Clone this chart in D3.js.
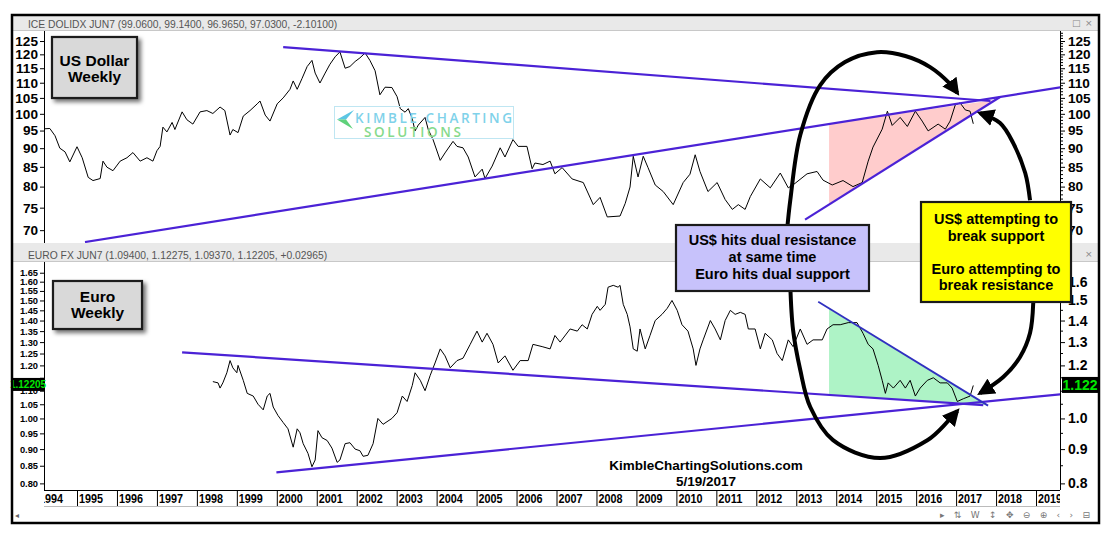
<!DOCTYPE html>
<html><head><meta charset="utf-8">
<script src="https://cdn.jsdelivr.net/npm/d3@7"></script>
<style>
html,body{margin:0;padding:0;background:#fff;}
svg{display:block;font-family:"Liberation Sans",Arial,sans-serif;}
</style></head><body>
<svg id="c" width="1114" height="540"></svg>
<script>
// ---------------- DATA ----------------
const usdYears = [1994.17,1994.32,1994.45,1994.57,1994.70,1994.82,1995.00,1995.13,1995.28,1995.40,
1995.58,1995.65,1995.75,1995.90,1996.08,1996.25,1996.40,1996.58,1996.75,1996.90,
1997.00,1997.08,1997.15,1997.25,1997.38,1997.45,1997.63,1997.75,1997.90,1998.08,
1998.25,1998.40,1998.58,1998.70,1998.83,1998.90,1999.03,1999.16,1999.33,1999.51,
1999.58,1999.71,1999.83,2000.01,2000.16,2000.33,2000.41,2000.51,2000.63,2000.76,
2000.88,2000.96,2001.08,2001.21,2001.33,2001.46,2001.58,2001.71,2001.83,2001.96,
2002.08,2002.21,2002.33,2002.46,2002.58,2002.71,2002.88,2003.01,2003.09,2003.21,
2003.29,2003.39,2003.46,2003.54,2003.71,2003.79,2003.91,2004.09,2004.21,2004.41,
2004.51,2004.66,2004.79,2004.96,2005.14,2005.21,2005.39,2005.59,2005.71,2005.91,
2006.04,2006.26,2006.39,2006.46,2006.66,2006.84,2006.96,2007.14,2007.39,2007.67,
2007.92,2008.09,2008.27,2008.59,2008.72,2008.84,2008.92,2009.04,2009.17,2009.29,
2009.47,2009.67,2009.92,2010.17,2010.34,2010.47,2010.59,2010.79,2011.02,2011.22,
2011.40,2011.55,2011.72,2011.85,2012.10,2012.35,2012.60,2012.80,2012.97,2013.27,
2013.52,2013.67,2013.90,2014.17,2014.42,2014.65,2014.80,2014.92,2015.15,2015.28,
2015.40,2015.60,2015.78,2015.98,2016.15,2016.30,2016.55,2016.73,2016.85,2016.98,
2017.10,2017.23,2017.35,2017.43];
const usdValues = [95.5,95.6,93.5,90,89,86.3,90.4,87.4,82.3,81.5,
82,86.5,84.9,84,86.5,87.4,88.8,86.5,87.4,86.5,
89.3,90.5,96,94.6,97.4,95.3,100.6,98.2,96.9,100.6,
101,100.1,102.1,101,93.7,95.3,94.4,99.3,101,103.1,
104,99.6,97.8,103.1,105,107.8,110.6,107.8,111.4,115.6,
117.8,113.3,109.9,113.3,116.4,119.1,120.9,115,115.6,117.4,
118.7,120.5,117.8,114.1,106,108.5,108.4,105.4,101.6,100.5,
101.6,98.5,94.9,96.6,98.9,95.3,92.4,86.7,88.7,91.9,
90.5,90.1,87.6,82.4,84.4,82,85.2,90.1,87.6,92.4,
90.5,90.5,84.5,86,85.6,86.5,83.2,84.8,81.9,81,
75.7,77.4,72.9,73.1,76,79.9,87.8,82.4,87.8,84.8,
80.4,78.8,75.7,81,83.1,88.2,83.8,78.8,81,76.9,
74.6,75.7,74.6,77.6,81.9,79.7,83.4,79.7,80.8,83.2,
83.8,81.6,80.4,81.5,80,81,86.5,90.3,95.4,100.8,
96.5,98.9,96.2,100.8,97.8,94.9,96.9,95.4,97.8,102.8,
103.4,101.2,100.8,97.0];

const eurYears = [1998.40,1998.53,1998.58,1998.65,1998.75,1998.83,1998.90,1999.00,1999.03,1999.16,
1999.26,1999.41,1999.53,1999.66,1999.76,1999.83,1999.91,2000.03,2000.16,2000.28,
2000.41,2000.51,2000.58,2000.66,2000.78,2000.88,2000.96,2001.03,2001.13,2001.26,
2001.38,2001.51,2001.58,2001.71,2001.83,2001.96,2002.08,2002.16,2002.28,2002.41,
2002.53,2002.66,2002.88,2003.01,2003.14,2003.26,2003.39,2003.46,2003.59,2003.71,
2003.84,2003.96,2004.09,2004.21,2004.34,2004.51,2004.66,2004.84,2005.01,2005.14,
2005.26,2005.41,2005.54,2005.71,2005.91,2006.09,2006.29,2006.41,2006.64,2006.84,
2006.96,2007.09,2007.34,2007.52,2007.64,2007.77,2007.89,2008.02,2008.09,2008.22,
2008.29,2008.42,2008.54,2008.59,2008.67,2008.77,2008.84,2008.92,2009.02,2009.09,
2009.22,2009.34,2009.47,2009.64,2009.77,2009.89,2010.02,2010.14,2010.29,2010.42,
2010.49,2010.59,2010.67,2010.85,2010.97,2011.10,2011.22,2011.35,2011.47,2011.60,
2011.72,2011.80,2011.97,2012.10,2012.22,2012.40,2012.52,2012.65,2012.80,2012.92,
2013.10,2013.27,2013.42,2013.65,2013.77,2013.92,2014.10,2014.30,2014.52,2014.67,
2014.80,2014.92,2015.05,2015.15,2015.23,2015.30,2015.43,2015.60,2015.73,2015.85,
2015.98,2016.10,2016.28,2016.43,2016.60,2016.78,2016.90,2017.03,2017.18,2017.35,
2017.43];
const eurValues = [1.135,1.13,1.11,1.13,1.17,1.22,1.19,1.17,1.20,1.14,
1.09,1.08,1.05,1.03,1.08,1.09,1.04,1.01,0.986,0.965,
0.906,0.965,0.952,0.917,0.887,0.847,0.867,0.959,0.936,0.927,
0.903,0.86,0.867,0.917,0.92,0.90,0.895,0.878,0.881,0.917,
1.0,0.98,1.0,1.02,1.08,1.06,1.12,1.17,1.14,1.10,
1.16,1.21,1.27,1.24,1.19,1.22,1.23,1.29,1.35,1.30,
1.34,1.29,1.21,1.24,1.18,1.22,1.22,1.29,1.28,1.27,
1.33,1.30,1.36,1.35,1.38,1.36,1.43,1.47,1.45,1.48,
1.57,1.58,1.57,1.58,1.48,1.43,1.37,1.27,1.26,1.36,
1.27,1.33,1.40,1.43,1.46,1.50,1.45,1.38,1.35,1.27,
1.20,1.27,1.31,1.40,1.36,1.31,1.40,1.45,1.43,1.44,
1.43,1.36,1.36,1.27,1.34,1.31,1.25,1.22,1.31,1.28,
1.36,1.29,1.31,1.31,1.36,1.38,1.38,1.39,1.39,1.34,
1.29,1.27,1.20,1.14,1.09,1.13,1.11,1.14,1.11,1.14,
1.08,1.11,1.14,1.15,1.13,1.13,1.11,1.06,1.07,1.08,
1.12];

const yearTicks = d3.range(1994, 2020);
const usdTicks = [70,75,80,85,90,95,100,105,110,115,120,125];
const eurLeftTicks = [0.80,0.85,0.90,0.95,1.00,1.05,1.10,1.15,1.20,1.25,1.30,1.35,1.40,1.45,1.50,1.55,1.60,1.65];
const eurRightTicks = [0.8,0.9,1.0,1.1,1.2,1.3,1.4,1.5,1.6];

// trend lines (year, value)
const usdResistYears = [2000.16, 2017.86], usdResistValues = [122.7, 104.0];
const usdSupportYears = [1995.2, 2019.63], usdSupportValues = [67.5, 108.5];
const usdWedgeYears = [2013.22, 2018.1], usdWedgeValues = [72.3, 105.3];
const usdZoneYears = [2013.82, 2013.82, 2017.95], usdZoneValues = [97.0, 75.8, 104.3];
const eurResistYears = [1997.63, 2017.68], eurResistValues = [1.255, 1.047];
const eurSupportYears = [1999.99, 2019.63], eurSupportValues = [0.831, 1.087];
const eurTriYears = [2013.55, 2017.8], eurTriValues = [1.493, 1.045];
const eurZoneYears = [2013.82, 2013.82, 2017.78], eurZoneValues = [1.457, 1.083, 1.046];

// annotation arrows (year, value)
const arrowTopYears = [2012.77,2012.85,2013.10,2013.60,2014.22,2015.02,2015.73,2016.35,2016.85,2017.03];
const arrowTopValues = [70.0,76.7,93.7,109.2,117.2,120.8,119.4,115.4,109.6,106.6];
const arrowLoopYears = [2012.85,2012.92,2013.10,2013.35,2013.92,2015.10,2016.28,2016.78,2017.03];
const arrowLoopValues = [1.582,1.355,1.181,1.040,0.928,0.873,0.928,0.988,1.026];
const arrowUpYears = [2018.85,2018.73,2018.43,2018.10,2017.60];
const arrowUpValues = [76.7,83.4,91.4,97.2,100.2];
const arrowDownYears = [2018.93,2018.85,2018.60,2018.18,2017.60];
const arrowDownValues = [1.487,1.341,1.235,1.153,1.091];

const usdTitle = "ICE DOLIDX JUN7 (99.0600, 99.1400, 96.9650, 97.0300, -2.10100)";
const eurTitle = "EURO FX JUN7 (1.09400, 1.12275, 1.09370, 1.12205, +0.02965)";
const eurLast = 1.12205;

// ---------------- LAYOUT ----------------
const svg = d3.select('#c');
const L = 44, R = 1060;
const TOP0 = 31, TOP1 = 243, BOT0 = 262, BOT1 = 490;
const x = d3.scaleLinear().domain([1994.174, 2019.6]).range([L, R]);
const yTop = d3.scaleLog().domain([67.3, 128.9]).range([TOP1, TOP0]);
const yBot = d3.scaleLog().domain([0.782, 1.712]).range([BOT1, BOT0]);
const zip = (a, b) => a.map((v, i) => [v, b[i]]);
const purple = '#4b22d6';

const defs = svg.append('defs');
defs.append('clipPath').attr('id', 'cTop').append('rect').attr('x', L).attr('y', TOP0).attr('width', R - L).attr('height', TOP1 - TOP0);
defs.append('clipPath').attr('id', 'cBot').append('rect').attr('x', L).attr('y', BOT0).attr('width', R - L).attr('height', BOT1 - BOT0);
defs.append('clipPath').attr('id', 'cX').append('rect').attr('x', L).attr('y', 488).attr('width', R - L).attr('height', 20);
defs.append('marker').attr('id', 'ah').attr('viewBox', '0 0 10 10').attr('refX', 8).attr('refY', 5)
  .attr('markerWidth', 4.3).attr('markerHeight', 4.3).attr('orient', 'auto')
  .append('path').attr('d', 'M0,0 L10,5 L0,10 z').attr('fill', '#000');
const f = defs.append('filter').attr('id', 'sh').attr('x', '-20%').attr('y', '-20%').attr('width', '150%').attr('height', '150%');
f.append('feDropShadow').attr('dx', 3).attr('dy', 3).attr('stdDeviation', 2).attr('flood-color', '#000').attr('flood-opacity', 0.55);

svg.append('rect').attr('width', 1114).attr('height', 540).attr('fill', '#fff');

// title bands
[[16, TOP0, usdTitle], [TOP1, BOT0, eurTitle]].forEach(([a, b, t]) => {
  svg.append('rect').attr('x', 13).attr('y', a).attr('width', 1086).attr('height', b - a).attr('fill', '#e9e9e9');
  svg.append('line').attr('x1', 13).attr('x2', 1099).attr('y1', b - 0.5).attr('y2', b - 0.5).attr('stroke', '#c8c8c8');
  svg.append('text').attr('x', 28).attr('y', b - 3.5).attr('font-size', 10.3).attr('fill', '#555').text(t);
});
svg.append('text').attr('x', 1072).attr('y', 26).attr('font-size', 9).attr('fill', '#888').attr('font-family', 'DejaVu Sans').text('□');
svg.append('text').attr('x', 1085).attr('y', 26).attr('font-size', 9).attr('fill', '#888').attr('font-family', 'DejaVu Sans').text('×');
svg.append('text').attr('x', 1085).attr('y', 257).attr('font-size', 9).attr('fill', '#888').attr('font-family', 'DejaVu Sans').text('×');

// panels
const gTop = svg.append('g').attr('clip-path', 'url(#cTop)');
const gBot = svg.append('g').attr('clip-path', 'url(#cBot)');
const lineTop = d3.line().x(d => x(d[0])).y(d => yTop(d[1]));
const lineBot = d3.line().x(d => x(d[0])).y(d => yBot(d[1]));

gTop.append('path').attr('d', lineTop(zip(usdZoneYears, usdZoneValues)) + 'Z').attr('fill', '#ffcccc');
gBot.append('path').attr('d', lineBot(zip(eurZoneYears, eurZoneValues)) + 'Z').attr('fill', '#aef3c6');

gTop.append('path').attr('d', lineTop(zip(usdYears, usdValues))).attr('fill', 'none').attr('stroke', '#000').attr('stroke-width', 1).attr('stroke-linejoin', 'round');
gBot.append('path').attr('d', lineBot(zip(eurYears, eurValues))).attr('fill', 'none').attr('stroke', '#000').attr('stroke-width', 1).attr('stroke-linejoin', 'round');

[[usdResistYears, usdResistValues], [usdSupportYears, usdSupportValues], [usdWedgeYears, usdWedgeValues]].forEach(([a, b]) =>
  gTop.append('path').attr('d', lineTop(zip(a, b))).attr('stroke', purple).attr('stroke-width', 2.2).attr('fill', 'none'));
[[eurResistYears, eurResistValues], [eurSupportYears, eurSupportValues]].forEach(([a, b]) =>
  gBot.append('path').attr('d', lineBot(zip(a, b))).attr('stroke', purple).attr('stroke-width', 2.2).attr('fill', 'none'));
gBot.append('path').attr('d', lineBot(zip(eurTriYears, eurTriValues))).attr('stroke', '#3030c0').attr('stroke-width', 1.8).attr('fill', 'none');

// axes
function styleAxis(g, size) {
  g.selectAll('text').attr('font-family', '"Liberation Sans",Arial,sans-serif').attr('font-weight', 'bold').attr('font-size', size).attr('fill', '#000');
  g.selectAll('.tick line').attr('stroke', '#000');
  g.select('.domain').remove();
}
// labels hidden behind the last-value boxes in the reference
const hideNear = (g, v) => g.selectAll('.tick').filter(d => Math.abs(d - v) < 0.04).select('text').remove();
svg.append('g').attr('transform', `translate(${L},0)`).call(d3.axisLeft(yTop).tickValues(usdTicks).tickFormat(d3.format('d')).tickSize(4).tickPadding(2)).call(g => styleAxis(g, 13.6));
svg.append('g').attr('transform', `translate(${R},0)`).call(d3.axisRight(yTop).tickValues(usdTicks).tickFormat(d3.format('d')).tickSize(5).tickPadding(3)).call(g => styleAxis(g, 13.6));
svg.append('g').attr('transform', `translate(${L},0)`).call(d3.axisLeft(yBot).tickValues(eurLeftTicks).tickFormat(d3.format('.2f')).tickSize(4).tickPadding(2)).call(g => styleAxis(g, 9.3)).call(g => hideNear(g, 1.15));
svg.append('g').attr('transform', `translate(${R},0)`).call(d3.axisRight(yBot).tickValues(eurRightTicks).tickFormat(d3.format('.1f')).tickSize(5).tickPadding(3)).call(g => styleAxis(g, 14)).call(g => hideNear(g, 1.1));
// minor ticks right
d3.range(68, 129, 1).filter(v => v % 5 !== 0).forEach(v =>
  svg.append('line').attr('x1', R).attr('x2', R + 3).attr('y1', yTop(v)).attr('y2', yTop(v)).attr('stroke', '#000'));
d3.range(16, 34, 1).filter(v => v % 2 === 1).forEach(v =>
  svg.append('line').attr('x1', R).attr('x2', R + 3).attr('y1', yBot(v * 0.05)).attr('y2', yBot(v * 0.05)).attr('stroke', '#000'));
// axis lines
[[TOP0, TOP1], [BOT0, BOT1]].forEach(([a, b]) => {
  svg.append('line').attr('x1', L + 0.5).attr('x2', L + 0.5).attr('y1', a).attr('y2', b).attr('stroke', '#000');
  svg.append('line').attr('x1', R + 0.5).attr('x2', R + 0.5).attr('y1', a).attr('y2', b).attr('stroke', '#000');
});
svg.append('line').attr('x1', L).attr('x2', R).attr('y1', BOT1 + 0.5).attr('y2', BOT1 + 0.5).attr('stroke', '#000');
svg.append('line').attr('x1', L).attr('x2', R).attr('y1', 506.5).attr('y2', 506.5).attr('stroke', '#bbb');

// x axis years
const gx = svg.append('g').attr('clip-path', 'url(#cX)');
yearTicks.forEach(yr => {
  gx.append('line').attr('x1', x(yr) + 0.5).attr('x2', x(yr) + 0.5).attr('y1', BOT1).attr('y2', 506).attr('stroke', '#000');
  gx.append('text').attr('x', x(yr) + 2).attr('y', 503).attr('font-family', '"Liberation Sans Narrow","Arial Narrow",sans-serif')
    .attr('font-weight', 'bold').attr('font-size', 13).attr('textLength', 24).attr('lengthAdjust', 'spacingAndGlyphs').text(yr);
});

// scrollbar area
svg.append('text').attr('x', 15).attr('y', 518).attr('font-size', 8).attr('fill', '#666').attr('font-family', 'DejaVu Sans').text('◂');
svg.append('text').attr('x', 940).attr('y', 518).attr('font-size', 9).attr('fill', '#777').attr('font-family', 'DejaVu Sans')
  .text('▸ ⇅ W ↕ ✥ ⊖ ⊕  ‹ ›  ⊟').attr('textLength', 150).attr('lengthAdjust', 'spacing');

// logo
const lg = svg.append('g');
lg.append('rect').attr('x', 334.5).attr('y', 106.5).attr('width', 179).attr('height', 32).attr('fill', 'none').attr('stroke', '#bfe6f2');
lg.append('path').attr('d', 'M354,110 L337,119.5 L346,119.5 Z').attr('fill', '#5cc6e3');
lg.append('path').attr('d', 'M337,119.5 L353,129 L346,119.5 Z').attr('fill', '#5fd17a');
lg.append('text').attr('x', 355).attr('y', 123).attr('font-family', '"Open Sans",sans-serif').attr('font-weight', 600).attr('font-size', 13.5).attr('fill', '#7fd2ea')
  .attr('textLength', 157).attr('lengthAdjust', 'spacing').text('KIMBLE CHARTING');
lg.append('text').attr('x', 364).attr('y', 136.5).attr('font-family', '"Open Sans",sans-serif').attr('font-weight', 600).attr('font-size', 13.5).attr('fill', '#86da8c')
  .attr('textLength', 97).attr('lengthAdjust', 'spacing').text('SOLUTIONS');

// arrows
const arrowTop = d3.line().x(d => x(d[0])).y(d => yTop(d[1])).curve(d3.curveCatmullRom.alpha(0.5));
const arrowBot = d3.line().x(d => x(d[0])).y(d => yBot(d[1])).curve(d3.curveCatmullRom.alpha(0.5));
const drawArrow = (d) => svg.append('path').attr('d', d).attr('fill', 'none').attr('stroke', '#000').attr('stroke-width', 4).attr('marker-end', 'url(#ah)');
drawArrow(arrowTop(zip(arrowTopYears, arrowTopValues)));
drawArrow(arrowBot(zip(arrowLoopYears, arrowLoopValues)));
drawArrow(arrowTop(zip(arrowUpYears, arrowUpValues)));
drawArrow(arrowBot(zip(arrowDownYears, arrowDownValues)));

// text boxes
function box(x0, y0, w, h, fill, lines, size, shadow) {
  const g = svg.append('g');
  g.append('rect').attr('x', x0).attr('y', y0).attr('width', w).attr('height', h).attr('fill', fill)
    .attr('stroke', '#1a1a1a').attr('stroke-width', 2.2).attr('filter', shadow ? 'url(#sh)' : null);
  lines.forEach(([t, yy]) => g.append('text').attr('x', x0 + w / 2).attr('y', yy).attr('text-anchor', 'middle')
    .attr('font-weight', 'bold').attr('font-size', size).attr('fill', '#000').text(t));
}
box(52, 37, 85, 61, '#d9d9d9', [['US Dollar', 65.5], ['Weekly', 82]], 15.5, true);
box(53, 281, 89, 48, '#d9d9d9', [['Euro', 301.5], ['Weekly', 317.5]], 15.5, true);
box(676, 225, 193, 66, '#c7c2fb', [['US$ hits dual resistance', 245], ['at same time', 262], ['Euro hits dual support', 278.5]], 14.5, false);
box(921, 202, 150, 100, '#ffff00', [['US$ attempting to', 224], ['break support', 241], ['Euro attempting to', 273.5], ['break resistance', 290]], 14.5, false);

svg.append('text').attr('x', 706).attr('y', 470).attr('text-anchor', 'middle').attr('font-weight', 'bold').attr('font-size', 13.5).text('KimbleChartingSolutions.com');
svg.append('text').attr('x', 706).attr('y', 485.5).attr('text-anchor', 'middle').attr('font-weight', 'bold').attr('font-size', 13.5).text('5/19/2017');

// last value labels
const ly = yBot(eurLast);
svg.append('rect').attr('x', 12).attr('y', ly - 7).attr('width', 32).attr('height', 13).attr('fill', '#000');
svg.append('text').attr('x', 28).attr('y', ly + 3.5).attr('text-anchor', 'middle').attr('font-weight', 'bold').attr('font-size', 10).attr('fill', '#00e600').text(d3.format('.5f')(eurLast));
svg.append('rect').attr('x', 1062).attr('y', ly - 8).attr('width', 36).attr('height', 16).attr('fill', '#000');
svg.append('text').attr('x', 1080).attr('y', ly + 5).attr('text-anchor', 'middle').attr('font-weight', 'bold').attr('font-size', 14).attr('fill', '#00e600').text(d3.format('.3f')(eurLast));

// outer frame
svg.append('rect').attr('x', 12).attr('y', 15).attr('width', 1087).attr('height', 508).attr('fill', 'none').attr('stroke', '#000').attr('stroke-width', 2.5);
</script>
</body></html>
